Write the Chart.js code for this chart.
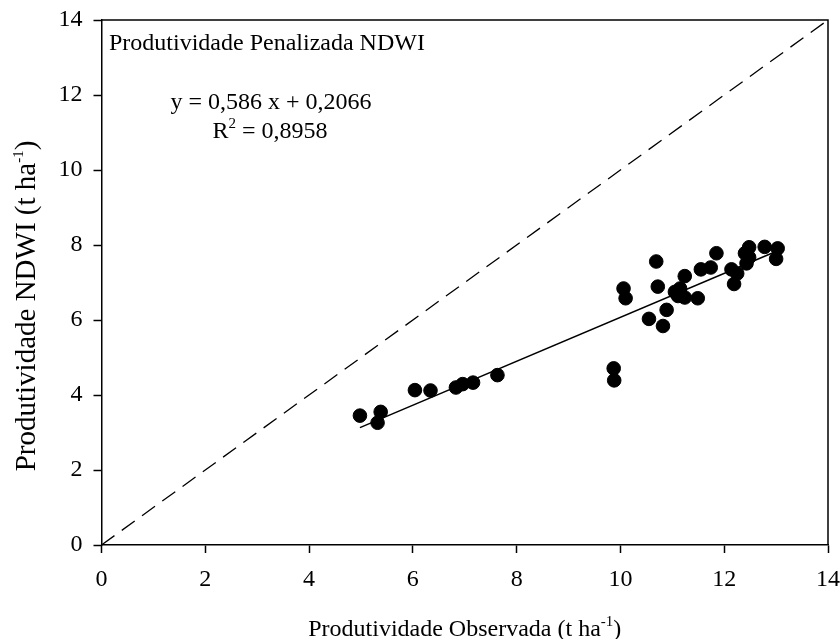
<!DOCTYPE html>
<html lang="pt-BR">
<head>
<meta charset="utf-8">
<title>Produtividade Penalizada NDWI</title>
<script src="https://cdn.jsdelivr.net/npm/chart.js@4.4.1/dist/chart.umd.min.js"></script>
<style>
    html, body { margin: 0; padding: 0; background: #fff; }
    #wrap { width: 840px; height: 639px; position: relative; }
</style>
</head>
<body>
<div id="wrap"><canvas id="scatterChart"></canvas></div>
<script>
// Dados (t ha-1)
const produtividadeObservada = [4.98, 5.38, 5.32, 6.04, 6.34, 6.83, 6.96, 7.16, 7.63, 9.87, 9.88, 10.06, 10.10,
    10.69, 10.72, 10.55, 10.89, 10.82, 11.24, 11.05, 11.15, 11.11, 11.24, 11.49, 11.55, 11.74, 11.85,
    12.14, 12.25, 12.19, 12.40, 12.48, 12.43, 12.48, 12.78, 13.03, 13.00];
const produtividadeNdwi = [3.45, 3.55, 3.26, 4.13, 4.12, 4.20, 4.29, 4.33, 4.53, 4.71, 4.39, 6.84, 6.58,
    7.56, 6.89, 6.03, 6.27, 5.84, 7.17, 6.75, 6.84, 6.64, 6.60, 6.58, 7.35, 7.40, 7.78,
    7.35, 7.24, 6.96, 7.78, 7.94, 7.51, 7.67, 7.95, 7.91, 7.63];

// Reta ajustada (extremos) e linha 1:1
const ajusteX = [4.98, 12.95];
const ajusteY = [3.13, 7.80];
const linha11X = [0, 14];
const linha11Y = [0, 14];

const ticksEixo = [0, 2, 4, 6, 8, 10, 12, 14];

const fonte = '"Liberation Serif", "Times New Roman", serif';

function pares(xs, ys) {
    return xs.map((x, i) => ({ x, y: ys[i] }));
}

// texto com expoente (ex.: ha-1, R2)
function partesLargura(ctx, partes) {
    let total = 0;
    partes.forEach(p => {
        ctx.font = (p.sup ? '15px ' : p.size + 'px ') + fonte;
        total += ctx.measureText(p.t).width;
    });
    return total;
}

function desenhaPartes(ctx, partes, x, y) {
    partes.forEach(p => {
        ctx.font = (p.sup ? '15px ' : p.size + 'px ') + fonte;
        ctx.fillText(p.t, x, p.sup ? y - p.rise : y);
        x += ctx.measureText(p.t).width;
    });
}

const anotacoes = {
    id: 'anotacoes',
    afterDraw(chart) {
        const ctx = chart.ctx;
        const a = chart.chartArea;
        ctx.save();
        ctx.fillStyle = '#000';
        ctx.strokeStyle = '#000';
        ctx.textBaseline = 'alphabetic';
        ctx.textAlign = 'left';

        // moldura superior e direita
        ctx.lineWidth = 1.5;
        ctx.beginPath();
        ctx.moveTo(a.left, a.top);
        ctx.lineTo(a.right, a.top);
        ctx.lineTo(a.right, a.bottom);
        ctx.stroke();

        ctx.font = '24px ' + fonte;
        ctx.fillText('Produtividade Penalizada NDWI', 109, 50);

        // equação centralizada
        ctx.font = '24px ' + fonte;
        const eq = 'y = 0,586 x + 0,2066';
        ctx.fillText(eq, 271 - ctx.measureText(eq).width / 2, 109);

        const r2 = [{ t: 'R', size: 24 }, { t: '2', sup: true, rise: 10 }, { t: ' = 0,8958', size: 24 }];
        desenhaPartes(ctx, r2, 270 - partesLargura(ctx, r2) / 2, 138);

        // título do eixo x
        const tx = [{ t: 'Produtividade Observada (t ha', size: 24 }, { t: '-1', sup: true, rise: 10 }, { t: ')', size: 24 }];
        const cx = (a.left + a.right) / 2;
        desenhaPartes(ctx, tx, cx - partesLargura(ctx, tx) / 2, 636);

        // título do eixo y (rotacionado)
        const ty = [{ t: 'Produtividade NDWI (t ha', size: 29 }, { t: '-1', sup: true, rise: 12 }, { t: ')', size: 29 }];
        ctx.translate(35, 306);
        ctx.rotate(-Math.PI / 2);
        desenhaPartes(ctx, ty, -partesLargura(ctx, ty) / 2, 0);

        ctx.restore();
    }
};

const eixo = {
    type: 'linear',
    min: 0,
    max: 14,
    afterBuildTicks: s => { s.ticks = ticksEixo.map(v => ({ value: v })); },
    grid: { display: true, drawOnChartArea: false, drawTicks: true, tickLength: 8, tickWidth: 1.5, color: '#000' },
    border: { display: true, color: '#000', width: 1.5 },
    ticks: { color: '#000', font: { family: fonte, size: 24 }, maxRotation: 0 }
};

const ctxScatter = document.getElementById('scatterChart').getContext('2d');
new Chart(ctxScatter, {
    type: 'scatter',
    data: {
        datasets: [
            {
                label: '1:1',
                data: pares(linha11X, linha11Y),
                showLine: true,
                borderColor: '#000',
                borderWidth: 1.3,
                borderDash: [16, 9],
                pointRadius: 0,
                fill: false
            },
            {
                label: 'Ajuste',
                data: pares(ajusteX, ajusteY),
                showLine: true,
                borderColor: '#000',
                borderWidth: 1.5,
                pointRadius: 0,
                fill: false
            },
            {
                label: 'Observações',
                data: pares(produtividadeObservada, produtividadeNdwi),
                backgroundColor: '#000',
                borderColor: '#000',
                pointRadius: 6.8,
                pointHoverRadius: 6.8
            }
        ]
    },
    options: {
        responsive: true,
        maintainAspectRatio: false,
        animation: false,
        layout: { padding: { top: 20, right: 12, left: 0, bottom: 0 } },
        plugins: { legend: { display: false }, tooltip: { enabled: false } },
        scales: {
            x: Object.assign({}, eixo, {
                position: 'bottom',
                ticks: Object.assign({}, eixo.ticks, { padding: 12 }),
                afterFit: s => { s.height = 94; s.paddingLeft = 0; s.paddingRight = 0; }
            }),
            y: Object.assign({}, eixo, {
                position: 'left',
                ticks: Object.assign({}, eixo.ticks, { padding: 11 }),
                afterFit: s => { s.width = 101.5; s.paddingTop = 0; s.paddingBottom = 0; }
            })
        }
    },
    plugins: [anotacoes]
});
</script>
</body>
</html>
